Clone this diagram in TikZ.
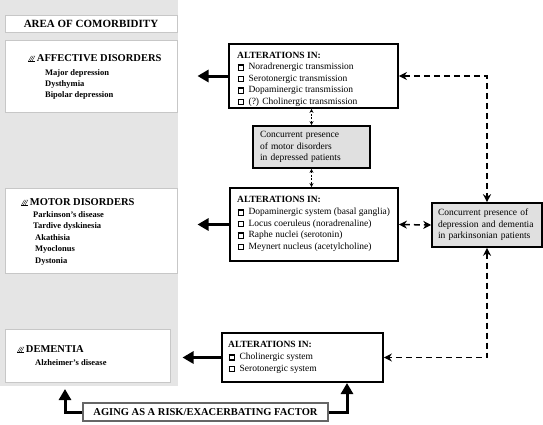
\documentclass[tikz,border=0pt]{standalone}
\usepackage{fontspec}
\setmainfont{Liberation Serif}
\usetikzlibrary{arrows.meta}

\newcommand{\hatchmark}{\tikz[x=1pt,y=1pt,line width=0.35pt]{\foreach \k in {0,1.7,3.4} \draw (\k,0) -- (\k+3.2,5.5); \draw (0,0) -- (6.6,0);}\hspace{1.8pt}}
\newcommand{\chkbox}{{\setlength{\fboxsep}{0pt}\setlength{\fboxrule}{1.3pt}\fbox{\rule{0pt}{3.8pt}\hspace{3.8pt}}}\hspace{4.5pt}}

\begin{document}
\begin{tikzpicture}[x=1pt, y=-1pt,
  whitebox/.style={draw=black!22, fill=white, line width=1pt},
  altbox/.style={draw, line width=1.8pt, inner sep=0pt},
  concbox/.style={draw, line width=1.6pt, fill=black!12, align=left, inner ysep=0pt, font=\fontsize{9.5}{11.5}\selectfont},
  item/.style={anchor=base west, inner sep=0pt, font=\fontsize{9.5}{11.5}\selectfont},
  alttitle/.style={item, font=\bfseries\fontsize{9.5}{11.5}\selectfont},
  ditem/.style={anchor=base west, inner sep=0pt, font=\bfseries\fontsize{8.5}{10}\selectfont},
  head/.style={anchor=base west, inner sep=0pt, font=\bfseries\fontsize{10.5}{12}\selectfont},
  thickarrow/.style={line width=3pt, -{Triangle[length=11pt,width=12pt]}},
  dasharrow/.style={line width=1.5pt, dash pattern=on 6pt off 4pt, {Stealth[length=8pt,width=8pt]}-{Stealth[length=8pt,width=8pt]}},
  dotarrow/.style={line width=0.7pt, dash pattern=on 2pt off 1.5pt, {Stealth[length=4pt,width=4pt]}-{Stealth[length=4pt,width=4pt]}}]
\useasboundingbox (0,0) rectangle (543,424);
%\draw[help lines, color=gray!30] (0,0) grid[step=20] (543,424);
\fill[black!10] (0,0) rectangle (178,386);

\node[whitebox, minimum width=172, minimum height=17, font=\bfseries\fontsize{11}{13}\selectfont] (area) at (91,23.5) {AREA OF COMORBIDITY};

% disorders
\node[whitebox, minimum width=172, minimum height=72] (aff) at (91,76) {};
\node[head] (affh) at (28,61.5) {\hatchmark AFFECTIVE DISORDERS};
\foreach \t [count=\i] in {Major depression, Dysthymia, Bipolar depression}
  \node[ditem] (aff\i) at (45,64+11*\i) {\t};

\node[whitebox, minimum width=172, minimum height=85] (motor) at (91,230.5) {};
\node[head] (motorh) at (21,205.5) {\hatchmark MOTOR DISORDERS};
\foreach \x/\t [count=\i] in {33/Parkinson's disease, 33/Tardive dyskinesia, 35/Akathisia, 35/Myoclonus, 35/Dystonia}
  \node[ditem] (motor\i) at (\x,205.5+11.5*\i) {\t};

\node[whitebox, minimum width=165, minimum height=53] (dem) at (87.5,355.5) {};
\node[head] (demh) at (17,352.5) {\hatchmark DEMENTIA};
\node[ditem] (dem1) at (35,365) {Alzheimer's disease};

% alterations
\node[altbox, minimum width=169, minimum height=64] (alt1) at (313.5,76) {};
\node[alttitle] (alt1h) at (237,58.5) {ALTERATIONS IN:};
\foreach \t [count=\i] in {Noradrenergic transmission, Serotonergic transmission, Dopaminergic transmission, (?) Cholinergic transmission}
  \node[item] (alt1\i) at (237.5,58+11.5*\i) {\chkbox\t};

\node[altbox, minimum width=168, minimum height=73] (alt2) at (314,224.5) {};
\node[alttitle] (alt2h) at (237,202) {ALTERATIONS IN:};
\foreach \t [count=\i] in {Dopaminergic system (basal ganglia), Locus coeruleus (noradrenaline), Raphe nuclei (serotonin), Meynert nucleus (acetylcholine)}
  \node[item] (alt2\i) at (237.5,203+11.5*\i) {\chkbox\t};

\node[altbox, minimum width=161, minimum height=49] (alt3) at (302.5,357.5) {};
\node[alttitle] (alt3h) at (228,347) {ALTERATIONS IN:};
\foreach \t [count=\i] in {Cholinergic system, Serotonergic system}
  \node[item] (alt3\i) at (228.5,347.5+11.8*\i) {\chkbox\t};

% concurrent presence
\node[concbox, minimum height=42, text width=103, inner xsep=7] (conc1) at (311.5,147) {Concurrent presence\\of motor disorders\\in depressed patients};
\node[concbox, minimum height=44, text width=98, inner xsep=6] (conc2) at (487,225) {Concurrent presence of\\depression and dementia\\in parkinsonian patients};

\node[draw=black!60, line width=1.5pt, fill=white, minimum width=245, minimum height=18, inner sep=0pt, font=\bfseries\fontsize{10.5}{12}\selectfont] (aging) at (205.5,412) {AGING AS A RISK/EXACERBATING FACTOR};
\coordinate (agel) at (65,389);
\coordinate (ager) at (347,383);

% connectors
\draw[thickarrow, shorten >=20pt] (alt1.west) -- (alt1.west -| aff.east);
\draw[thickarrow, shorten >=20pt] (alt2.west) -- (alt2.west -| motor.east);
\draw[thickarrow, shorten >=12pt] (alt3.west) -- (alt3.west -| dem.east);
\draw[thickarrow] (aging.west) -| (agel);
\draw[thickarrow] (aging.east) -| (ager);

\draw[dotarrow] (conc1.north) -- (conc1.north |- alt1.south);
\draw[dotarrow] (conc1.south) -- (conc1.south |- alt2.north);

\draw[dasharrow] (alt1.east) -| (conc2.north);
\draw[dasharrow] (alt2.east) -- (conc2.west);
\draw[dasharrow] (conc2.south) |- (alt3.east);
\end{tikzpicture}
\end{document}
